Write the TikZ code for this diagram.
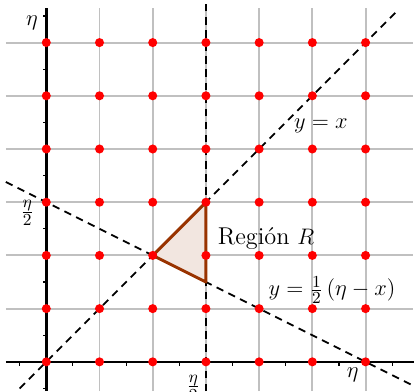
\documentclass[tikz,border=0pt]{standalone}
\usepackage{amsmath}
\begin{document}
\begin{tikzpicture}[x=1cm, y=1cm, font=\fontsize{13}{15}\selectfont]

\definecolor{grisg}{RGB}{192,192,192}
\definecolor{rojop}{RGB}{255,0,0}
\definecolor{marronr}{RGB}{153,51,0}
\definecolor{rellenor}{RGB}{242,230,224}

\def\NE{6}

% Marco de la figura
\useasboundingbox (-0.87,-0.55) rectangle (6.91,6.80);

% === GRILLA ===
\foreach \s in {1,...,\NE}{ \draw[grisg,line width=1pt] (\s,-0.55)  -- (\s,6.65); }
\foreach \r in {1,...,\NE}{ \draw[grisg,line width=1pt] (-0.76,\r)  -- (6.9,\r);  }

% === EJES ===
\draw[line width=1.3pt] (-0.76,0) -- (6.91,0);
\draw[line width=1.3pt] (0,-0.55) -- (0,6.65);
\foreach \s in {-0.5,0,...,6.5}{ \draw[line width=0.6pt] (\s,0) -- (\s,-0.07); }
\foreach \r in {-0.5,0,...,6.5}{ \draw[line width=0.6pt] (0,\r) -- (-0.07,\r); }

% === RECTAS ===
\draw[line width=1pt, dash pattern=on 4pt off 3pt] (-0.5,-0.5)  -- (6.62,6.62);
\draw[line width=1pt, dash pattern=on 4pt off 3pt] (-0.76,3.38) -- (6.9,-0.45);
\draw[line width=1pt, dash pattern=on 4pt off 3pt] (3,-0.55)    -- (3,6.8);

% === REGION R ===
\filldraw[fill=rellenor, draw=marronr, line width=1.6pt, line join=round]
  (2,2) -- (3,3) -- (3,1.5) -- cycle;

% === PUNTOS (rojo) ===
\foreach \s in {0,...,\NE}{
  \foreach \r in {0,...,\NE}{ \fill[rojop] (\s,\r) circle (0.085); }
}

% === TEXTOS ===
\node (etaY)   at (-0.27,6.37) {$\eta$};
\node (etaX)   at (5.76,-0.25) {$\eta$};
\node (mitadY) at (-0.36,2.80) {$\frac{\eta}{2}$};
\node[anchor=north] (mitadX) at (2.76,-0.12) {$\frac{\eta}{2}$};
\node (region) at (4.13,2.31) {Región $R$};
\node (rectaA) at (5.16,4.43) {$y=x$};
\node (rectaB) at (5.37,1.35) {$y=\frac{1}{2}\,(\eta-x)$};

\end{tikzpicture}
\end{document}
